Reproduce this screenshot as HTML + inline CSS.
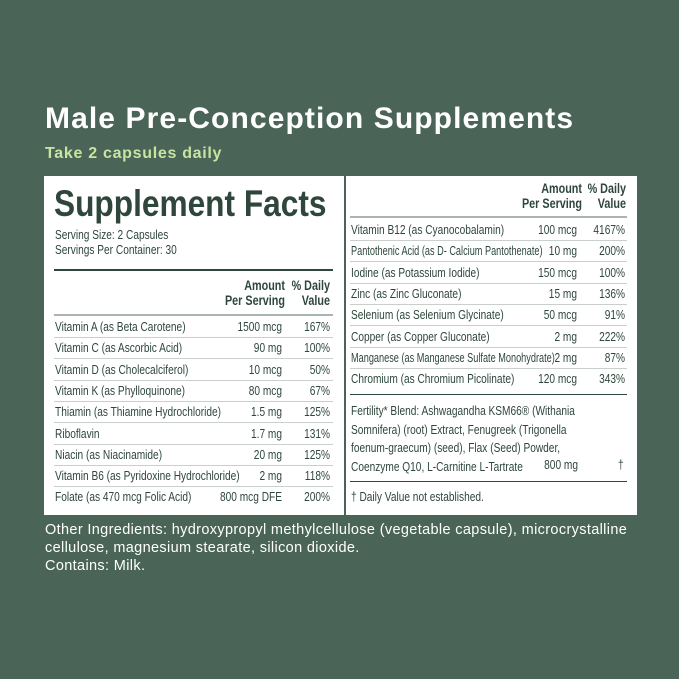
<!DOCTYPE html>
<html><head><style>
*{margin:0;padding:0;box-sizing:border-box}
body{width:679px;height:679px;background:#4a6557;position:relative;overflow:hidden;font-family:"Liberation Sans",sans-serif}
.a{position:absolute;white-space:nowrap}
.n{color:#2e463b;font-size:13px;transform:scaleX(.78);transform-origin:left top}
.r{transform-origin:right top;text-align:right}
.h{color:#2e463b;font-size:13.5px;font-weight:bold;text-align:right;line-height:15px;transform:scaleX(.8);transform-origin:right top}
.ln{position:absolute;height:1px;background:#c9cfcb}
.tk{position:absolute;background:#2e463b}
</style></head><body>
<div class="a" style="left:45px;top:102px;font-size:30px;font-weight:bold;color:#fff;letter-spacing:1.1px">Male Pre-Conception Supplements</div>
<div class="a" style="left:45px;top:145px;font-size:16px;font-weight:bold;color:#c8e4a0;letter-spacing:0.7px">Take 2 capsules daily</div>
<div style="position:absolute;left:44px;top:176px;width:593px;height:339px;background:#fff"></div>
<div style="position:absolute;left:344px;top:176px;width:2px;height:339px;background:#4a6557"></div>
<div class="a" style="left:54px;top:183px;font-size:37px;font-weight:bold;color:#2e463b;transform:scaleX(.855);transform-origin:left top">Supplement Facts</div>
<div class="a n" style="left:55px;top:227px;line-height:15px">Serving Size: 2 Capsules<br>Servings Per Container: 30</div>
<div class="tk" style="left:54px;top:269px;width:279px;height:2px"></div>
<div class="a h" style="left:185px;top:278px;width:100px">Amount<br>Per Serving</div>
<div class="a h" style="left:280px;top:278px;width:50px">% Daily<br>Value</div>
<div class="ln" style="left:54px;top:314px;width:279px;height:2px;background:#aab3ae"></div>
<div id="L"></div>
<div class="a h" style="left:477px;top:181px;width:105px">Amount<br>Per Serving</div>
<div class="a h" style="left:576px;top:181px;width:50px">% Daily<br>Value</div>
<div class="ln" style="left:350px;top:216px;width:277px;height:2px;background:#aab3ae"></div>
<div id="R"></div>
<div class="tk" style="left:350px;top:394px;width:277px;height:1px"></div>
<div class="a n" style="left:351px;top:402px;line-height:18.5px">Fertility* Blend: Ashwagandha KSM66® (Withania<br>Somnifera) (root) Extract, Fenugreek (Trigonella<br>foenum-graecum) (seed), Flax (Seed) Powder,<br>Coenzyme Q10, L-Carnitine L-Tartrate</div>
<div class="a n r" style="left:510px;top:457px;width:68px">800 mg</div>
<div class="a n" style="left:618px;top:457px">†</div>
<div class="tk" style="left:350px;top:481px;width:277px;height:1px"></div>
<div class="a n" style="left:351px;top:489px">† Daily Value not established.</div>
<div class="a" style="left:45px;top:521px;font-size:14.5px;color:#fff;line-height:18px;letter-spacing:0.35px">Other Ingredients: hydroxypropyl methylcellulose (vegetable capsule), microcrystalline<br>cellulose, magnesium stearate, silicon dioxide.<br>Contains: Milk.</div>
<script>
var L=[["Vitamin A (as Beta Carotene)","1500 mcg","167%"],["Vitamin C (as Ascorbic Acid)","90 mg","100%"],["Vitamin D (as Cholecalciferol)","10 mcg","50%"],["Vitamin K (as Phylloquinone)","80 mcg","67%"],["Thiamin (as Thiamine Hydrochloride)","1.5 mg","125%"],["Riboflavin","1.7 mg","131%"],["Niacin (as Niacinamide)","20 mg","125%"],["Vitamin B6 (as Pyridoxine Hydrochloride)","2 mg","118%"],["Folate (as 470 mcg Folic Acid)","800 mcg DFE","200%"]];
var R=[["Vitamin B12 (as Cyanocobalamin)","100 mcg","4167%"],["Pantothenic Acid (as D- Calcium Pantothenate)","10 mg","200%"],["Iodine (as Potassium Iodide)","150 mcg","100%"],["Zinc (as Zinc Gluconate)","15 mg","136%"],["Selenium (as Selenium Glycinate)","50 mcg","91%"],["Copper (as Copper Gluconate)","2 mg","222%"],["Manganese (as Manganese Sulfate Monohydrate)","2 mg","87%"],["Chromium (as Chromium Picolinate)","120 mcg","343%"]];
var h="";
L.forEach(function(r,i){var y=319+i*21.3;
h+='<div class="a n" style="left:55px;top:'+y+'px">'+r[0]+'</div><div class="a n r" style="left:172px;top:'+y+'px;width:110px">'+r[1]+'</div><div class="a n r" style="left:270px;top:'+y+'px;width:60px">'+r[2]+'</div>';
if(i<8)h+='<div class="ln" style="left:54px;top:'+(y+18)+'px;width:279px"></div>';});
R.forEach(function(r,i){var y=222+i*21.3;var sc=(i==1||i==6)?'transform:scaleX(.705);':'';
h+='<div class="a n r" style="left:477px;top:'+y+'px;width:100px">'+r[1]+'</div><div class="a n r" style="left:565px;top:'+y+'px;width:60px">'+r[2]+'</div><div class="a n" style="left:351px;top:'+y+'px;'+sc+'">'+r[0]+'</div>';
if(i<7)h+='<div class="ln" style="left:350px;top:'+(y+18)+'px;width:277px"></div>';});
document.getElementById("L").outerHTML=h;
</script>
</body></html>
